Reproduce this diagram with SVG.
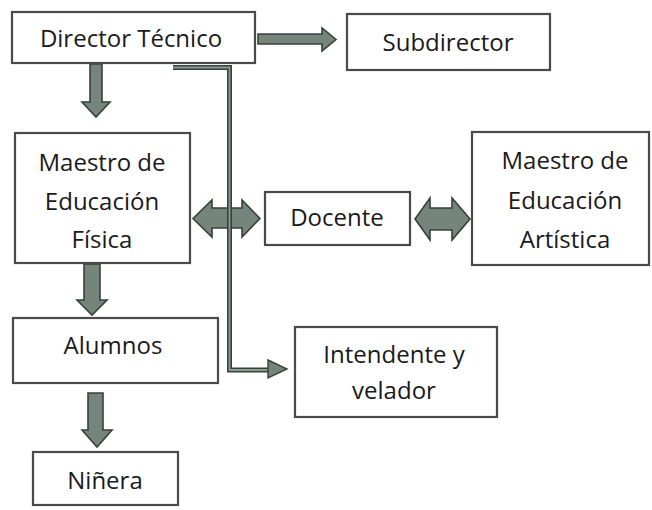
<svg xmlns="http://www.w3.org/2000/svg" width="652" height="510" viewBox="0 0 652 510">
<style>
.box{fill:#fff;stroke:#4a4a4a;stroke-width:2.2}
.lbl{font-family:"Open Sans","Liberation Sans",sans-serif;font-size:24px;fill:#1a1a1a;text-anchor:middle}
.arr{fill:#76857c;stroke:#36423b;stroke-width:1.6;stroke-linejoin:miter}
.conn{fill:none;stroke-linejoin:miter}
</style>
<rect width="652" height="510" fill="#fff"/>
<g id="connectors">
<polygon class="arr" points="258,34 322,34 322,28 336,39.5 322,51 322,44 258,44"/>
<polygon class="arr" points="90,64 102,64 102,102 110,102 96,117 82,102 90,102"/>
<polygon class="arr" points="193,218.5 212,200 212,208 242,208 242,200 260,218.5 242,237 242,228 212,228 212,237"/>
<polygon class="arr" points="415,219 430,198 430,208 452,208 452,198 470,219 452,240 452,230 430,230 430,240"/>
<polygon class="arr" points="84,264 100,264 100,300 107,300 92,315 77,300 84,300"/>
<polygon class="arr" points="88,393 103,393 103,430 112,430 97,447 82,430 88,430"/>
<path class="conn" d="M173,67.5 H229.5 V370 H270" stroke="#36423b" stroke-width="5"/>
<path class="conn" d="M173,67.5 H229.5 V370 H270" stroke="#8d9a92" stroke-width="1.8"/>
<polygon class="arr" points="268,360 287,369 268,378" style="stroke-width:1.4"/>
</g>
<g id="director"><rect class="box" x="12" y="12" width="243" height="51"/><text class="lbl" x="131" y="47">Director Técnico</text></g>
<g id="subdirector"><rect class="box" x="347" y="14" width="203" height="56"/><text class="lbl" x="448" y="51">Subdirector</text></g>
<g id="maestro-ef"><rect class="box" x="15" y="133" width="175" height="130"/><text class="lbl" x="102" y="171">Maestro de</text><text class="lbl" x="102" y="210">Educación</text><text class="lbl" x="102" y="248">Física</text></g>
<g id="docente"><rect class="box" x="265" y="192" width="145" height="53"/><text class="lbl" x="337" y="226">Docente</text></g>
<g id="maestro-ea"><rect class="box" x="472" y="132" width="177" height="133"/><text class="lbl" x="565" y="169">Maestro de</text><text class="lbl" x="565" y="209">Educación</text><text class="lbl" x="565" y="248">Artística</text></g>
<g id="alumnos"><rect class="box" x="13" y="318" width="205" height="65"/><text class="lbl" x="113" y="354">Alumnos</text></g>
<g id="intendente"><rect class="box" x="295" y="327" width="202" height="90"/><text class="lbl" x="394" y="363">Intendente y</text><text class="lbl" x="394" y="399">velador</text></g>
<g id="ninera"><rect class="box" x="33" y="452" width="145" height="53"/><text class="lbl" x="105" y="489">Niñera</text></g>
</svg>
